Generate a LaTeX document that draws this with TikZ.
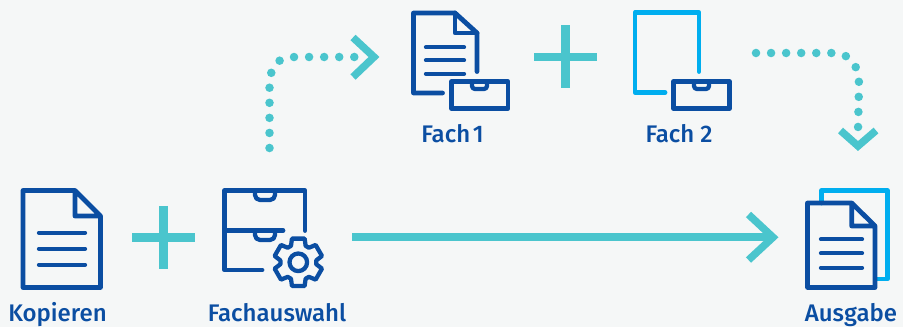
\documentclass[tikz,border=0pt]{standalone}
\usepackage{fontspec}
\setmainfont{Fira Sans}[UprightFont=* Medium]
\definecolor{bgc}{HTML}{F5F7F7}
\definecolor{navy}{HTML}{0B4EA2}
\definecolor{sky}{HTML}{00AEEF}
\definecolor{teal}{HTML}{4AC5CD}
\tikzset{
  icon/.style={draw=navy,line width=3.6pt,line join=round,line cap=round},
  thin icon/.style={icon,line width=3.2pt},
  skyicon/.style={icon,draw=sky},
  bar/.style={draw=teal,line width=6.2pt},
  tealline/.style={draw=teal,line width=6pt},
  chev/.style={draw=teal,line width=5.6pt,miter limit=10},
  dots/.style={draw=teal,line width=6.4pt,line cap=round,dash pattern=on 0pt off 11.3pt},
  lab/.style={text=navy,font=\fontsize{18}{20}\selectfont,anchor=base,inner sep=0pt},
}
\begin{document}
\begin{tikzpicture}[x=0.75pt,y=-0.75pt]
\useasboundingbox (0,0) rectangle (903,327);
\fill[bgc] (0,0) rectangle (903,327);
% Kopieren
\draw[icon] (75,190.5) -- (23,190.5) -- (23,287.5) -- (100.5,287.5) -- (100.5,216) -- cycle (75,190.5) -- (75,216) -- (100.5,216);
\draw[thin icon] (39,232.7) -- (85,232.7) (39,248.7) -- (85,248.7) (39,264.7) -- (85,264.7);
% plus 1
\draw[bar] (132,237.5) -- (195,237.5) (163.5,206) -- (163.5,269);
% Fachauswahl drawers
\draw[icon] (305,230.5) -- (305,190.5) -- (224.5,190.5) -- (224.5,270) -- (262,270);
\draw[icon] (224.5,230.7) -- (283,230.7);
\draw[thin icon] (255,191) -- (255,195) arc[start angle=180,end angle=90,radius=5] -- (270,200) arc[start angle=90,end angle=0,radius=5] -- (275,191);
\draw[thin icon] (255,231.5) -- (255,235) arc[start angle=180,end angle=90,radius=5] -- (270,240) arc[start angle=90,end angle=0,radius=5] -- (275,231.5);
% gear
\begin{scope}[shift={(298.3,262.3)}]
\draw[thin icon] (90-15:24.5)
  \foreach \a in {90,150,210,270,330,390} { -- (\a-15:24.5) -- (\a+15:24.5) -- (\a+24:18) -- (\a+36:18) } -- cycle;
\draw[thin icon] (0,0) circle[radius=8.8];
\end{scope}
% Fach 1
\draw[icon] (477,71.5) -- (477,33) -- (455,13) -- (413.5,13) -- (413.5,93) -- (442.5,93);
\draw[icon] (455,13) -- (455,33) -- (477,33);
\draw[thin icon] (426,47.3) -- (464,47.3) (426,60.3) -- (464,60.3) (426,73.7) -- (464,73.7);
\draw[icon] (451.5,81.5) rectangle (508,108.5);
\draw[thin icon] (472,82) -- (472,86) arc[start angle=180,end angle=90,radius=3] -- (484,89) arc[start angle=90,end angle=0,radius=3] -- (487,82);
% plus 2
\draw[bar] (534,57) -- (597,57) (565.5,25.5) -- (565.5,88.5);
% Fach 2
\draw[skyicon] (699,71.5) -- (699,12.5) -- (635,12.5) -- (635,92.5) -- (665,92.5);
\draw[icon] (673.5,81.5) rectangle (729.5,108.5);
\draw[thin icon] (694,82) -- (694,86) arc[start angle=180,end angle=90,radius=3] -- (706,89) arc[start angle=90,end angle=0,radius=3] -- (709,82);
% Ausgabe
\draw[skyicon] (821.5,203) -- (821.5,190.5) -- (887.5,190.5) -- (887.5,279) -- (877,279);
\draw[icon] (851.7,203) -- (807.5,203) -- (807.5,287.5) -- (875,287.5) -- (875,226) -- cycle (851.7,203) -- (851.7,226) -- (875,226);
\draw[thin icon] (821,239.3) -- (862,239.3) (821,253.3) -- (862,253.3) (821,267.7) -- (862,267.7);
% labels
\node[lab] (kopieren) at (57.5,321.8) {Kopieren};
\node[lab] (fachauswahl) at (277,321.8) {Fachauswahl};
\node[lab] (ausgabe) at (851,321.8) {Ausgabe};
\node[lab] (fach1) at (452.5,142.7) {Fach\hspace{2pt}1};
\node[lab] (fach2) at (679,142.7) {Fach 2};
% connectors
\coordinate (mainstart) at (352,237.3);
\coordinate (maintip) at (773,237.3);
\draw[tealline] (mainstart) -- (maintip);
\draw[chev] (748.5,214.5) -- (maintip) -- (748.5,260);
\coordinate (upstart) at (269.5,148);
\coordinate (upend) at (357,57);
\draw[dots] (upstart) -- (269.5,88) .. controls (269.5,66) and (277,57) .. (295,57) -- (upend);
\draw[chev] (353,37.5) -- (374,57) -- (353,77);
\coordinate (downstart) at (756,53);
\coordinate (downend) at (858,130);
\draw[dots] (downstart) -- (833,53) .. controls (850,53) and (859,65) .. (859,85) -- (downend);
\draw[chev] (840.5,130.5) -- (858,146) -- (876,130.5);
\end{tikzpicture}
\end{document}
